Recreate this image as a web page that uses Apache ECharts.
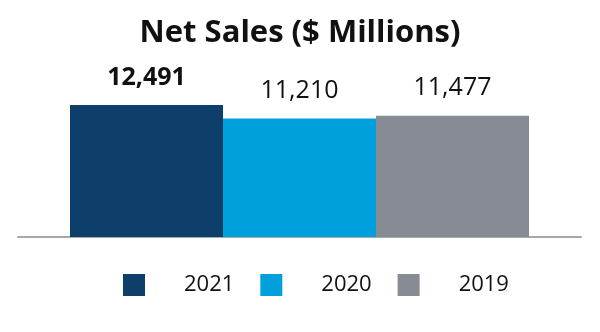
<!DOCTYPE html>
<html>
<head>
<meta charset="utf-8">
<script src="https://cdn.jsdelivr.net/npm/echarts@6/dist/echarts.min.js"></script>
<style>html,body{margin:0;padding:0;background:#fff}#c{width:600px;height:332px}</style>
</head>
<body>
<div id="c"></div>
<script>
const years = ['2021', '2020', '2019'];
const sales = [12491, 11210, 11477];
const colors = ['#0e3f6a', '#00a0dc', '#878c94'];
const boldLabel = [true, false, false];

const chart = echarts.init(document.getElementById('c'));
chart.setOption({
  animation: false,
  title: {
    text: 'Net Sales ($ Millions)',
    left: 'center',
    top: 13,
    textStyle: { fontFamily: 'Open Sans', fontSize: 31, fontWeight: 'bold', color: '#111' }
  },
  legend: {
    left: 118,
    top: 269,
    itemWidth: 22,
    itemHeight: 22,
    itemGap: 26,
    icon: 'rect',
    data: years,
    textStyle: { fontFamily: 'Open Sans', fontSize: 22, color: '#111', padding: [0, 0, 0, 34] }
  },
  grid: { left: 18, right: 19, top: 89, bottom: 95 },
  xAxis: {
    type: 'category',
    data: [''],
    axisTick: { show: false },
    axisLabel: { show: false },
    axisLine: { lineStyle: { color: '#a8a8a8', width: 2 } }
  },
  yAxis: { type: 'value', min: 0, max: 14000, show: false, splitLine: { show: false } },
  series: years.map((y, i) => ({
    name: y,
    type: 'bar',
    data: [sales[i]],
    barWidth: 153,
    barGap: '0%',
    itemStyle: { color: colors[i] },
    label: {
      show: true,
      position: 'top',
      distance: 15,
      fontFamily: 'Open Sans',
      fontSize: 25,
      fontWeight: boldLabel[i] ? 'bold' : 'normal',
      color: '#111',
      formatter: p => p.value.toLocaleString('en-US')
    }
  }))
});
</script>
</body>
</html>
